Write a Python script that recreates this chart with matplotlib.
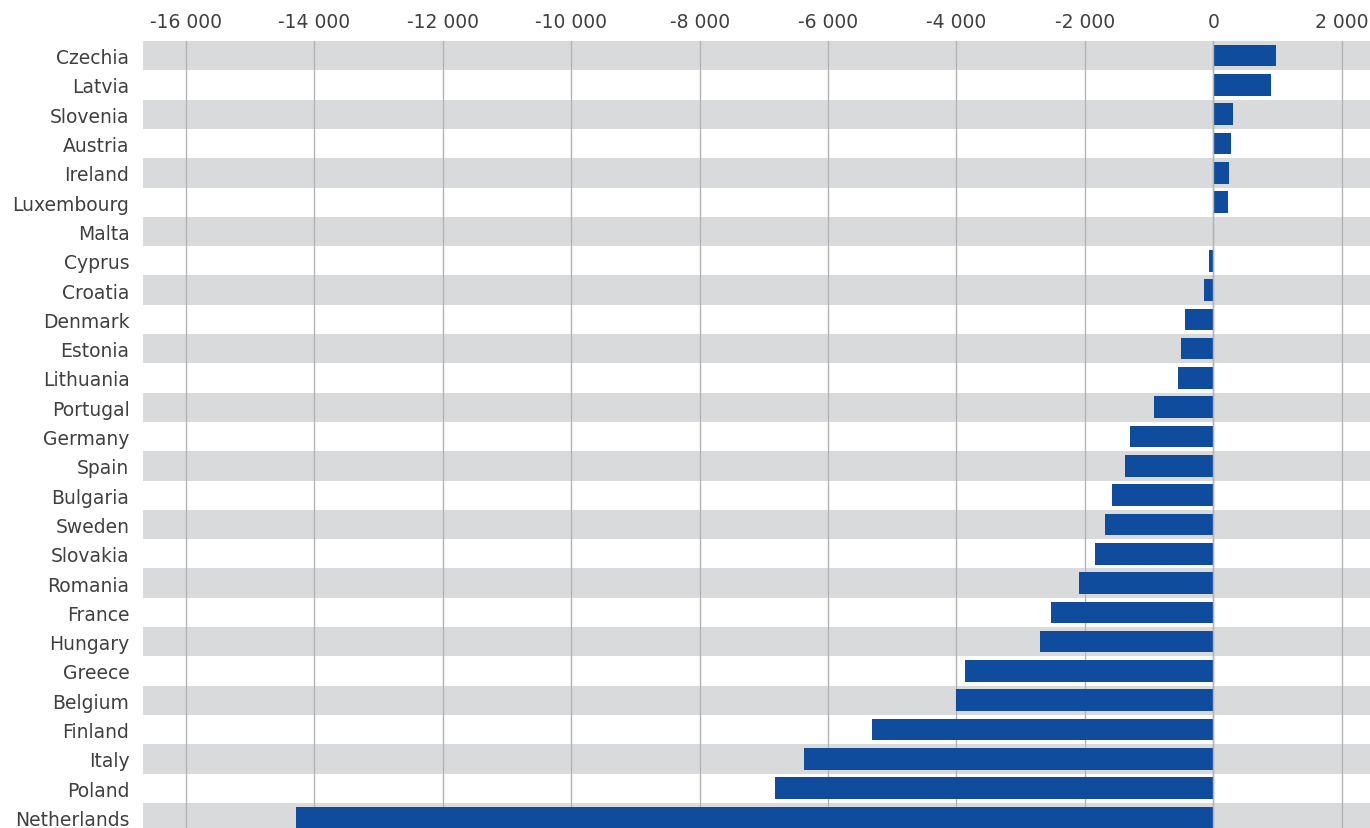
import matplotlib
matplotlib.use("Agg")
import matplotlib.pyplot as plt
from matplotlib.ticker import FuncFormatter

countries = ["Czechia", "Latvia", "Slovenia", "Austria", "Ireland", "Luxembourg",
             "Malta", "Cyprus", "Croatia", "Denmark", "Estonia", "Lithuania",
             "Portugal", "Germany", "Spain", "Bulgaria", "Sweden", "Slovakia",
             "Romania", "France", "Hungary", "Greece", "Belgium", "Finland",
             "Italy", "Poland", "Netherlands"]
values = [980, 895, 302, 276, 245, 229,
          0, -67, -145, -440, -502, -549,
          -925, -1300, -1378, -1580, -1690, -1846,
          -2098, -2532, -2707, -3861, -4010, -5311,
          -6373, -6820, -14280]
xticks = [-16000, -14000, -12000, -10000, -8000, -6000, -4000, -2000, 0, 2000]

W, H = 1370, 829
fig = plt.figure(figsize=(W / 100, H / 100), dpi=100)
left, right, top, bottom = 143.3, 1370, 42, 829
ax = fig.add_axes([left / W, 1 - bottom / H, (right - left) / W, (bottom - top) / H])

plt.rcParams['font.family'] = ['DejaVu Sans']
text_color = "#404040"
band_color = "#d9dadc"
bar_color = "#0f4c9e"
grid_color = "#b4b4b6"

n = len(countries)
ypos = list(range(n))
for i in ypos:
    if i % 2 == 0:
        ax.axhspan(i - 0.5, i + 0.5, color=band_color, lw=0, zorder=0)

for x in xticks:
    ax.axvline(x, color=grid_color, lw=1.0, zorder=1)

ax.barh(ypos, values, height=0.74, color=bar_color, zorder=2)
ax.axvline(0, color=grid_color, lw=1.0, zorder=3)

ax.set_xlim(-16664, 2440)
ax.set_ylim(26.36, -0.5)
ax.set_yticks(ypos)
ax.set_yticklabels(countries)
ax.set_xticks(xticks)
ax.xaxis.set_major_formatter(FuncFormatter(lambda v, p: f"{int(v):,}".replace(",", " ")))
ax.xaxis.tick_top()
ax.tick_params(axis="both", length=0, labelsize=13.5, colors=text_color)
ax.tick_params(axis="x", pad=7)
ax.tick_params(axis="y", pad=10)
for s in ax.spines.values():
    s.set_visible(False)

fig.savefig("out.png", dpi=100)
